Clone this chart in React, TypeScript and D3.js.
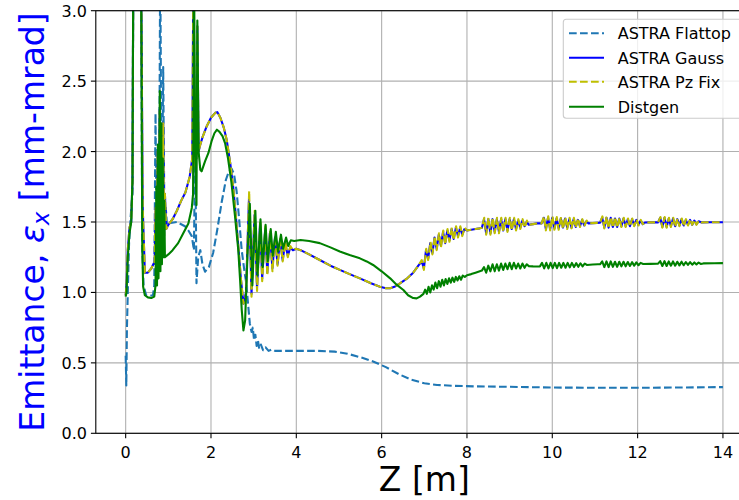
import React from "react";
import * as d3 from "d3";

type P = [number, number];

const xTicks = [0, 2, 4, 6, 8, 10, 12, 14];
const yTicks = [0, 0.5, 1.0, 1.5, 2.0, 2.5, 3.0];
const seriesNames = ["ASTRA Flattop", "ASTRA Gauss", "ASTRA Pz Fix", "Distgen"];

// ---------- ASTRA Flattop ----------
const flattopPoints: P[] = [
  [0.0, 0.55], [0.015, 0.34], [0.03, 0.75], [0.05, 1.0], [0.08, 1.35], [0.12, 1.55], [0.16, 1.7],
  [0.18, 3.4], [0.36, 3.4], [0.39, 1.3], [0.42, 1.05], [0.48, 0.98], [0.56, 0.975], [0.64, 0.98], [0.67, 1.05],
  [0.70, 2.27], [0.73, 1.15], [0.76, 1.9], [0.78, 1.25], [0.81, 3.4], [0.845, 1.4], [0.88, 2.6], [0.91, 1.45],
  [0.94, 1.6], [0.97, 1.48], [1.0, 1.49], [1.2, 1.5], [1.39, 1.47], [1.47, 1.44], [1.55, 1.4], [1.6, 1.3],
  [1.63, 2.1], [1.66, 1.065], [1.7, 1.25], [1.75, 1.3], [1.8, 1.2], [1.86, 1.147], [1.95, 1.18], [2.05, 1.28],
  [2.15, 1.45], [2.25, 1.64], [2.35, 1.8], [2.42, 1.86], [2.48, 1.88], [2.54, 1.84], [2.6, 1.72], [2.66, 1.52],
  [2.72, 1.3], [2.78, 1.16], [2.82, 1.08], [2.86, 0.95], [2.91, 0.78], [2.95, 0.72], [2.98, 0.75], [3.01, 0.66],
  [3.04, 0.70], [3.07, 0.62], [3.10, 0.66], [3.13, 0.6], [3.17, 0.63], [3.22, 0.59], [3.28, 0.61], [3.35, 0.585],
  [3.42, 0.595], [3.5, 0.585], [3.7, 0.585], [4.0, 0.585], [4.5, 0.585], [4.9, 0.58], [5.2, 0.565], [5.5, 0.54],
  [5.8, 0.51], [6.1, 0.47], [6.4, 0.42], [6.7, 0.38], [7.0, 0.355], [7.3, 0.343], [7.7, 0.337], [8.2, 0.333],
  [9.0, 0.33], [10.0, 0.325], [11.0, 0.323], [12.0, 0.323], [13.0, 0.325], [14.0, 0.328],
];

// ---------- ASTRA Gauss ----------
const gaussStart: P[] = [
  [0.0, 0.98], [0.02, 1.05], [0.05, 1.3], [0.09, 1.46], [0.13, 1.5], [0.16, 1.8], [0.18, 3.4], [0.36, 3.4],
  [0.40, 1.6], [0.45, 1.14], [0.52, 1.14], [0.6, 1.17], [0.68, 1.22],
  [0.70, 1.6], [0.72, 1.25], [0.75, 2.0], [0.77, 1.3], [0.80, 2.3], [0.82, 1.35], [0.84, 2.1], [0.86, 1.35],
  [0.88, 2.2], [0.90, 1.4], [0.92, 1.7], [0.95, 1.45],
  [1.0, 1.48], [1.1, 1.52], [1.2, 1.58], [1.3, 1.65], [1.4, 1.71], [1.5, 1.82], [1.56, 1.95], [1.59, 3.4],
  [1.62, 1.9], [1.64, 2.4], [1.66, 1.95], [1.68, 2.89], [1.71, 2.0], [1.74, 2.04], [1.8, 2.1], [1.9, 2.18],
  [2.0, 2.24], [2.1, 2.275], [2.15, 2.28], [2.22, 2.24], [2.3, 2.17], [2.37, 2.08], [2.45, 1.92], [2.52, 1.75],
  [2.58, 1.55], [2.64, 1.33], [2.70, 1.1], [2.76, 0.92],
];
const gaussOsc1: P[] = [
  [2.82, 1.0], [2.89, 1.66], [2.95, 0.99], [3.02, 1.55], [3.08, 1.03], [3.15, 1.49], [3.20, 1.10], [3.27, 1.45],
  [3.32, 1.14], [3.38, 1.42], [3.44, 1.17], [3.50, 1.39], [3.56, 1.20], [3.62, 1.37], [3.68, 1.23], [3.74, 1.35],
  [3.80, 1.26], [3.86, 1.32], [3.92, 1.30],
];
const gaussMid: P[] = [
  [4.0, 1.31], [4.1, 1.30], [4.3, 1.27], [4.55, 1.23], [4.8, 1.19], [5.02, 1.16], [5.25, 1.13], [5.49, 1.10],
  [5.75, 1.065], [5.96, 1.04], [6.1, 1.03], [6.2, 1.03], [6.3, 1.04], [6.43, 1.065], [6.6, 1.1], [6.74, 1.14],
  [6.86, 1.19],
];
const gaussOscA: P[] = [
  [6.94, 1.22], [6.99, 1.17], [7.04, 1.30], [7.09, 1.24], [7.14, 1.35], [7.19, 1.28], [7.24, 1.39], [7.29, 1.31],
  [7.34, 1.41], [7.39, 1.33], [7.44, 1.43], [7.49, 1.35], [7.54, 1.44], [7.59, 1.37], [7.64, 1.45], [7.69, 1.38],
  [7.74, 1.46], [7.79, 1.40], [7.84, 1.46], [7.89, 1.41], [7.94, 1.45], [8.0, 1.44],
  [8.1, 1.445], [8.2, 1.45], [8.3, 1.455],
];
const gaussOscB: P[] = [
  [8.35, 1.46], [8.40, 1.52], [8.45, 1.42], [8.50, 1.52], [8.55, 1.42], [8.60, 1.52], [8.65, 1.43], [8.70, 1.52],
  [8.75, 1.43], [8.80, 1.52], [8.85, 1.44], [8.90, 1.52], [8.95, 1.44], [9.00, 1.52], [9.05, 1.45], [9.10, 1.52],
  [9.15, 1.45], [9.20, 1.51], [9.25, 1.46], [9.30, 1.51], [9.35, 1.47], [9.40, 1.50], [9.45, 1.48],
  [9.55, 1.485], [9.65, 1.49],
];
const gaussOscC: P[] = [
  [9.75, 1.49], [9.80, 1.53], [9.85, 1.45], [9.90, 1.53], [9.95, 1.45], [10.00, 1.53], [10.05, 1.455],
  [10.10, 1.525], [10.15, 1.455], [10.20, 1.525], [10.25, 1.46], [10.30, 1.525], [10.35, 1.46], [10.40, 1.52],
  [10.45, 1.46], [10.50, 1.52], [10.55, 1.465], [10.60, 1.515], [10.65, 1.47], [10.70, 1.515], [10.75, 1.475],
  [10.80, 1.505], [10.85, 1.49], [10.95, 1.492], [11.05, 1.494],
];
const gaussOscD: P[] = [
  [11.12, 1.495], [11.17, 1.53], [11.22, 1.46], [11.27, 1.53], [11.32, 1.46], [11.37, 1.53], [11.42, 1.465],
  [11.47, 1.525], [11.52, 1.465], [11.57, 1.525], [11.62, 1.47], [11.67, 1.525], [11.72, 1.47], [11.77, 1.52],
  [11.82, 1.47], [11.87, 1.52], [11.92, 1.475], [11.97, 1.515], [12.02, 1.48], [12.07, 1.51], [12.12, 1.485],
  [12.17, 1.496], [12.3, 1.497], [12.43, 1.497],
];
const gaussOscE: P[] = [
  [12.48, 1.497], [12.53, 1.53], [12.58, 1.465], [12.63, 1.53], [12.68, 1.465], [12.73, 1.525], [12.78, 1.47],
  [12.83, 1.525], [12.88, 1.47], [12.93, 1.52], [12.98, 1.475], [13.03, 1.52], [13.08, 1.475], [13.13, 1.515],
  [13.18, 1.48], [13.23, 1.515], [13.28, 1.48], [13.33, 1.51], [13.38, 1.485], [13.43, 1.505], [13.5, 1.497],
  [13.7, 1.498], [14.0, 1.498],
];

// ---------- ASTRA Pz Fix (overlaps Gauss; slightly larger wiggles) ----------
const pzOsc1: P[] = [
  [2.82, 0.98], [2.895, 1.72], [2.95, 0.97], [3.025, 1.58], [3.08, 1.01], [3.155, 1.51], [3.20, 1.08],
  [3.275, 1.47], [3.32, 1.12], [3.385, 1.44], [3.44, 1.15], [3.505, 1.40], [3.56, 1.19], [3.625, 1.38],
  [3.68, 1.22], [3.745, 1.36], [3.80, 1.25], [3.86, 1.33], [3.92, 1.30],
];
const pzOscA: P[] = [
  [6.94, 1.23], [6.99, 1.16], [7.045, 1.31], [7.09, 1.23], [7.145, 1.36], [7.19, 1.27], [7.245, 1.40],
  [7.29, 1.30], [7.345, 1.42], [7.39, 1.32], [7.445, 1.44], [7.49, 1.34], [7.545, 1.45], [7.59, 1.36],
  [7.645, 1.46], [7.69, 1.37], [7.745, 1.47], [7.79, 1.39], [7.845, 1.47], [7.89, 1.40], [7.945, 1.46],
  [8.0, 1.44], [8.1, 1.445], [8.2, 1.45], [8.3, 1.455],
];
const pzOscB: P[] = [
  [8.35, 1.46], [8.405, 1.53], [8.45, 1.41], [8.505, 1.53], [8.55, 1.41], [8.605, 1.53], [8.65, 1.42],
  [8.705, 1.53], [8.75, 1.42], [8.805, 1.53], [8.85, 1.43], [8.905, 1.53], [8.95, 1.43], [9.005, 1.53],
  [9.05, 1.44], [9.105, 1.53], [9.15, 1.44], [9.205, 1.52], [9.25, 1.45], [9.305, 1.52], [9.35, 1.46],
  [9.405, 1.51], [9.45, 1.48], [9.55, 1.485], [9.65, 1.49],
];
const pzOscC: P[] = [
  [9.75, 1.49], [9.805, 1.54], [9.85, 1.44], [9.905, 1.54], [9.95, 1.44], [10.005, 1.54], [10.05, 1.445],
  [10.105, 1.535], [10.15, 1.445], [10.205, 1.535], [10.25, 1.45], [10.305, 1.535], [10.35, 1.45],
  [10.405, 1.53], [10.45, 1.455], [10.505, 1.53], [10.55, 1.46], [10.605, 1.525], [10.65, 1.465],
  [10.705, 1.52], [10.75, 1.47], [10.805, 1.51], [10.85, 1.49], [10.95, 1.492], [11.05, 1.494],
];
const pzOscD: P[] = [
  [11.12, 1.495], [11.175, 1.54], [11.22, 1.455], [11.275, 1.54], [11.32, 1.455], [11.375, 1.535],
  [11.42, 1.46], [11.475, 1.535], [11.52, 1.46], [11.575, 1.53], [11.62, 1.465], [11.675, 1.53],
  [11.72, 1.465], [11.775, 1.525], [11.82, 1.47], [11.875, 1.525], [11.92, 1.47], [11.975, 1.52],
  [12.02, 1.475], [12.075, 1.515], [12.12, 1.485], [12.17, 1.496], [12.3, 1.497], [12.43, 1.497],
];
const pzOscE: P[] = [
  [12.48, 1.497], [12.535, 1.535], [12.58, 1.46], [12.635, 1.535], [12.68, 1.46], [12.735, 1.53],
  [12.78, 1.465], [12.835, 1.53], [12.88, 1.465], [12.935, 1.525], [12.98, 1.47], [13.035, 1.525],
  [13.08, 1.47], [13.135, 1.52], [13.18, 1.475], [13.235, 1.52], [13.28, 1.48], [13.335, 1.515],
  [13.38, 1.48], [13.435, 1.51], [13.5, 1.497], [13.7, 1.498], [14.0, 1.498],
];

// ---------- Distgen ----------
const distgenStart: P[] = [
  [0.0, 0.97], [0.02, 1.0], [0.05, 1.25], [0.09, 1.42], [0.13, 1.5], [0.16, 1.8], [0.18, 3.4], [0.36, 3.4],
  [0.39, 1.3], [0.41, 1.04], [0.45, 0.98], [0.52, 0.965], [0.6, 0.96], [0.67, 0.97],
  [0.70, 1.05], [0.72, 1.75], [0.735, 1.05], [0.755, 2.05], [0.77, 1.1], [0.80, 2.43], [0.815, 1.15],
  [0.835, 2.2], [0.85, 1.2], [0.87, 1.95], [0.885, 1.25], [0.905, 1.65], [0.92, 1.25],
  [1.0, 1.27], [1.1, 1.3], [1.23, 1.35], [1.35, 1.42], [1.47, 1.49], [1.55, 1.6], [1.58, 1.7], [1.60, 3.4],
  [1.63, 2.0], [1.66, 1.62], [1.68, 2.93], [1.71, 2.0], [1.75, 1.87], [1.78, 1.86], [1.86, 1.93], [1.94, 1.99],
  [2.02, 2.08], [2.08, 2.13], [2.14, 2.155], [2.2, 2.14], [2.27, 2.11], [2.33, 2.06], [2.40, 1.95], [2.48, 1.78],
  [2.56, 1.55], [2.64, 1.30], [2.68, 1.1], [2.72, 0.88], [2.76, 0.73], [2.80, 0.80],
];
const distgenOsc1: P[] = [
  [2.86, 1.3], [2.91, 1.63], [2.97, 1.05], [3.04, 1.58], [3.09, 1.12], [3.16, 1.52], [3.21, 1.18], [3.28, 1.48],
  [3.33, 1.22], [3.40, 1.45], [3.45, 1.26], [3.52, 1.43], [3.57, 1.29], [3.64, 1.41], [3.69, 1.31], [3.76, 1.39],
  [3.81, 1.33], [3.87, 1.37], [3.95, 1.365],
];
const distgenMid: P[] = [
  [4.1, 1.372], [4.3, 1.365], [4.55, 1.35], [4.8, 1.32], [5.02, 1.29], [5.25, 1.265], [5.49, 1.242], [5.65, 1.22],
  [5.8, 1.195], [6.0, 1.15], [6.2, 1.10], [6.35, 1.055], [6.51, 1.017], [6.62, 0.98], [6.74, 0.96], [6.82, 0.958],
  [6.9, 0.97],
];
const distgenOscA: P[] = [
  [6.98, 0.99], [7.02, 1.02], [7.06, 0.99], [7.10, 1.04], [7.14, 1.00], [7.18, 1.05], [7.22, 1.02], [7.26, 1.07],
  [7.30, 1.03], [7.34, 1.08], [7.38, 1.04], [7.42, 1.09], [7.46, 1.05], [7.50, 1.095], [7.54, 1.06], [7.58, 1.10],
  [7.62, 1.07], [7.66, 1.105], [7.70, 1.075], [7.74, 1.11], [7.78, 1.085], [7.82, 1.115], [7.86, 1.09],
  [7.90, 1.12], [7.95, 1.11], [8.0, 1.122], [8.1, 1.13], [8.2, 1.14], [8.3, 1.15],
];
const distgenOscB: P[] = [
  [8.35, 1.155], [8.40, 1.18], [8.45, 1.14], [8.50, 1.19], [8.55, 1.15], [8.60, 1.20], [8.65, 1.15], [8.70, 1.20],
  [8.75, 1.155], [8.80, 1.205], [8.85, 1.16], [8.90, 1.205], [8.95, 1.165], [9.00, 1.21], [9.05, 1.165],
  [9.10, 1.21], [9.15, 1.17], [9.20, 1.205], [9.25, 1.17], [9.30, 1.205], [9.35, 1.175], [9.40, 1.20],
  [9.45, 1.187], [9.55, 1.185], [9.65, 1.184],
];
const distgenOscC: P[] = [
  [9.71, 1.185], [9.76, 1.21], [9.81, 1.17], [9.86, 1.21], [9.91, 1.17], [9.96, 1.21], [10.01, 1.172],
  [10.06, 1.21], [10.11, 1.172], [10.16, 1.21], [10.21, 1.175], [10.26, 1.21], [10.31, 1.175], [10.36, 1.21],
  [10.41, 1.178], [10.46, 1.21], [10.51, 1.18], [10.56, 1.208], [10.61, 1.182], [10.66, 1.207], [10.71, 1.185],
  [10.76, 1.205], [10.81, 1.195], [10.95, 1.198], [11.07, 1.2],
];
const distgenOscD: P[] = [
  [11.12, 1.2], [11.17, 1.22], [11.22, 1.18], [11.27, 1.22], [11.32, 1.18], [11.37, 1.22], [11.42, 1.182],
  [11.47, 1.218], [11.52, 1.182], [11.57, 1.218], [11.62, 1.185], [11.67, 1.218], [11.72, 1.185], [11.77, 1.216],
  [11.82, 1.188], [11.87, 1.215], [11.92, 1.19], [11.97, 1.213], [12.02, 1.193], [12.07, 1.21], [12.13, 1.202],
  [12.3, 1.203], [12.45, 1.204],
];
const distgenOscE: P[] = [
  [12.48, 1.204], [12.53, 1.222], [12.58, 1.188], [12.63, 1.222], [12.68, 1.188], [12.73, 1.22], [12.78, 1.19],
  [12.83, 1.22], [12.88, 1.19], [12.93, 1.218], [12.98, 1.192], [13.03, 1.218], [13.08, 1.193], [13.13, 1.216],
  [13.18, 1.195], [13.23, 1.215], [13.28, 1.197], [13.33, 1.213], [13.38, 1.199], [13.43, 1.212], [13.48, 1.202],
  [13.54, 1.206], [13.8, 1.207], [14.0, 1.208],
];

const gaussPoints: P[] = [...gaussStart, ...gaussOsc1, ...gaussMid, ...gaussOscA, ...gaussOscB, ...gaussOscC, ...gaussOscD, ...gaussOscE];
const pzFixPoints: P[] = [...gaussStart, ...pzOsc1, ...gaussMid, ...pzOscA, ...pzOscB, ...pzOscC, ...pzOscD, ...pzOscE];
const distgenPoints: P[] = [...distgenStart, ...distgenOsc1, ...distgenMid, ...distgenOscA, ...distgenOscB, ...distgenOscC, ...distgenOscD, ...distgenOscE];

const FONT = "'DejaVu Sans', sans-serif";
const W = 739;
const H = 500;
const L = 95.8;
const R = 752.8;
const T = 10.7;
const B = 433.3;

const styles = [
  { color: "#1f77b4", dash: "7.7,3.3" },
  { color: "#0000ff", dash: "" },
  { color: "#bfbf00", dash: "7.7,3.3" },
  { color: "#008000", dash: "" },
];

export default function App() {
  const x = d3.scaleLinear().domain([-0.7, 14.7]).range([L, R]);
  const y = d3.scaleLinear().domain([0, 3]).range([B, T]);
  const line = d3
    .line<P>()
    .x((d) => x(d[0]))
    .y((d) => y(d[1]));
  const data = [flattopPoints, gaussPoints, pzFixPoints, distgenPoints];
  const legendY = [33.3, 57.7, 81.7, 106.7];

  return (
    <svg
      width={W}
      height={H}
      style={{ position: "absolute", left: 0, top: 0, background: "#fff" }}
      fontFamily={FONT}
    >
      <defs>
        <clipPath id="plotclip">
          <rect x={L} y={T} width={R - L} height={B - T} />
        </clipPath>
      </defs>
      <rect x={0} y={0} width={W} height={H} fill="#fff" />
      {/* grid */}
      {xTicks.map((t) => (
        <line key={"gx" + t} x1={x(t)} x2={x(t)} y1={T} y2={B} stroke="#b0b0b0" strokeWidth={1.1} />
      ))}
      {yTicks.map((t) => (
        <line key={"gy" + t} x1={L} x2={R} y1={y(t)} y2={y(t)} stroke="#b0b0b0" strokeWidth={1.1} />
      ))}
      {/* series */}
      <g clipPath="url(#plotclip)">
        {data.map((pts, i) => (
          <path
            key={seriesNames[i]}
            d={line(pts) || ""}
            fill="none"
            stroke={styles[i].color}
            strokeWidth={2.1}
            strokeDasharray={styles[i].dash || undefined}
            strokeLinejoin="round"
          />
        ))}
      </g>
      {/* spines */}
      <rect x={L} y={T} width={R - L} height={B - T} fill="none" stroke="#000" strokeWidth={1.1} />
      {/* x ticks */}
      {xTicks.map((t) => (
        <g key={"xt" + t}>
          <line x1={x(t)} x2={x(t)} y1={B} y2={B + 4.9} stroke="#000" strokeWidth={1.1} />
          <text x={x(t)} y={458} textAnchor="middle" fontSize={16} fill="#000">
            {t}
          </text>
        </g>
      ))}
      {/* y ticks */}
      {yTicks.map((t) => (
        <g key={"yt" + t}>
          <line x1={L - 4.9} x2={L} y1={y(t)} y2={y(t)} stroke="#000" strokeWidth={1.1} />
          <text x={87} y={y(t) + 6} textAnchor="end" fontSize={16} fill="#000">
            {d3.format(".1f")(t)}
          </text>
        </g>
      ))}
      {/* axis labels */}
      <text x={(L + R) / 2} y={491} textAnchor="middle" fontSize={33} fill="#000">
        Z [m]
      </text>
      <text transform={`translate(43.5, ${(T + B) / 2}) rotate(-90)`} textAnchor="middle" fontSize={33} fill="#0000ff">
        Emittance, <tspan fontStyle="italic">ε</tspan>
        <tspan fontStyle="italic" fontSize={23} dy={5}>x</tspan>
        <tspan dy={-5}> [mm-mrad]</tspan>
      </text>
      {/* legend */}
      <rect x={563.3} y={19.3} width={185} height={99} rx={3} fill="#fff" fillOpacity={0.8} stroke="#cccccc" strokeWidth={1.1} />
      {seriesNames.map((name, i) => (
        <g key={"lg" + name}>
          <line
            x1={569}
            x2={604}
            y1={legendY[i]}
            y2={legendY[i]}
            stroke={styles[i].color}
            strokeWidth={2.1}
            strokeDasharray={styles[i].dash || undefined}
          />
          <text x={617.7} y={legendY[i] + 6} fontSize={16} fill="#000">
            {name}
          </text>
        </g>
      ))}
    </svg>
  );
}
